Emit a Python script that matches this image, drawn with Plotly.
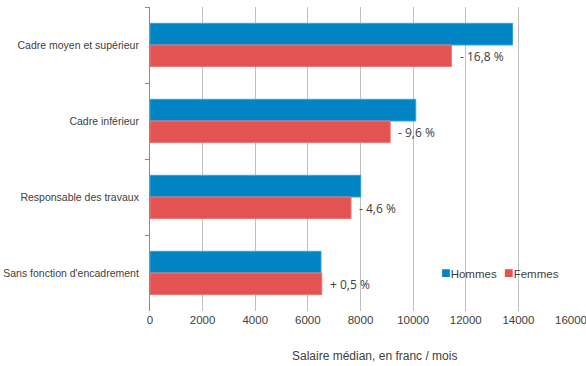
import plotly.graph_objects as go

categories = ["Cadre moyen et supérieur", "Cadre inférieur", "Responsable des travaux", "Sans fonction d'encadrement"]
hommes = [13780, 10100, 8010, 6500]
femmes = [11460, 9130, 7640, 6530]
ecarts = ["- 16,8 %", "- 9,6 %", "- 4,6 %", "+ 0,5 %"]
x_ticks = [0, 2000, 4000, 6000, 8000, 10000, 12000, 14000, 16000]

BLUE = "#0084C3"
RED = "#E25352"
TXT = "#404040"
AXFONT = "Liberation Sans, Arial"

fig = go.Figure()
fig.add_trace(go.Bar(y=categories, x=hommes, orientation="h", name="Hommes",
                     marker=dict(color=BLUE, line=dict(color="#3aa0d6", width=1))))
fig.add_trace(go.Bar(y=categories, x=femmes, orientation="h", name="Femmes",
                     marker=dict(color=RED, line=dict(color="#ee7a79", width=1))))

for cat, v, t in zip(categories, femmes, ecarts):
    fig.add_annotation(x=v, y=cat, text=t, showarrow=False, xanchor="left", yanchor="middle",
                       xshift=6, yshift=-11, font=dict(family="Open Sans, Noto Sans", size=12, color=TXT))

fig.add_annotation(x=0.534, y=-0.148, xref="paper", yref="paper", text="Salaire médian, en franc / mois",
                   showarrow=False, xanchor="center", yanchor="middle",
                   font=dict(family=AXFONT, size=12, color=TXT))

# legend drawn as text entries (compact, like the reference)
for name, col, lx in [("Hommes", BLUE, 0.686), ("Femmes", RED, 0.836)]:
    fig.add_annotation(x=lx, y=0.128, xref="paper", yref="paper", showarrow=False,
                       xanchor="left", yanchor="middle",
                       text=f"<span style='color:{col};font-size:16px'>■</span>{name}",
                       font=dict(family=AXFONT, size=11.5, color=TXT))

fig.update_layout(
    width=586, height=366,
    margin=dict(l=150, r=15, t=7, b=55, autoexpand=False),
    paper_bgcolor="white", plot_bgcolor="white",
    barmode="group", bargap=0.43, bargroupgap=0,
    font=dict(family=AXFONT, size=11, color=TXT),
    showlegend=False,
)
fig.update_xaxes(range=[0, 16000], tickvals=x_ticks, ticktext=[str(v) for v in x_ticks],
                 showgrid=True, gridcolor="#c0c0c0", gridwidth=1, zeroline=False, automargin=False,
                 ticklabeloverflow="allow",
                 showline=False, ticks="", tickfont=dict(family=AXFONT, size=11.5, color=TXT))
fig.update_yaxes(autorange="reversed", showline=True, linecolor="#8c8c8c", linewidth=1,
                 ticks="outside", tickson="boundaries", ticklen=4, tickcolor="#8c8c8c",
                 showgrid=False, ticklabelstandoff=8, automargin=False,
                 tickfont=dict(family=AXFONT, size=10.5, color=TXT))

fig.write_html("out.html")
